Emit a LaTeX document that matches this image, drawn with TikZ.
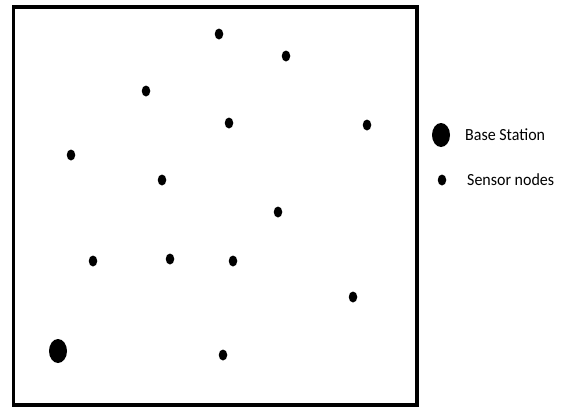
\documentclass[tikz,border=0pt]{standalone}
\usepackage{fontspec}
\setmainfont{Carlito}
\usetikzlibrary{shapes.geometric}
\begin{document}
\begin{tikzpicture}[x=1pt,y=-1pt,
  sensor/.style={ellipse,fill=black,draw=none,inner sep=0pt,minimum width=8.5pt,minimum height=11pt},
  basest/.style={ellipse,fill=black,draw=none,inner sep=0pt,minimum width=18pt,minimum height=24pt},
  legtext/.style={anchor=west,inner sep=0pt,font=\fontsize{17}{20}\selectfont,xscale=0.94}]
\useasboundingbox (0,0) rectangle (561,408);
\draw[line width=3.5pt] (13.5,7) rectangle (417,405);
\node[basest] (bs) at (58,351) {};
\node[sensor] (s1) at (219,34) {};
\node[sensor] (s2) at (286,56) {};
\node[sensor] (s3) at (146,91) {};
\node[sensor] (s4) at (229,123) {};
\node[sensor] (s5) at (367,125) {};
\node[sensor] (s6) at (71,155) {};
\node[sensor] (s7) at (162,180) {};
\node[sensor] (s8) at (278,212) {};
\node[sensor] (s9) at (93,261) {};
\node[sensor] (s10) at (170,259) {};
\node[sensor] (s11) at (233,261) {};
\node[sensor] (s12) at (353,297) {};
\node[sensor] (s13) at (223,355) {};
\node[basest] (lbs) at (441,135) {};
\node[sensor] (lsn) at (442,180) {};
\node[legtext] (tbs) at (465,135) {Base Station};
\node[legtext] (tsn) at (467,180) {Sensor nodes};
\end{tikzpicture}
\end{document}
